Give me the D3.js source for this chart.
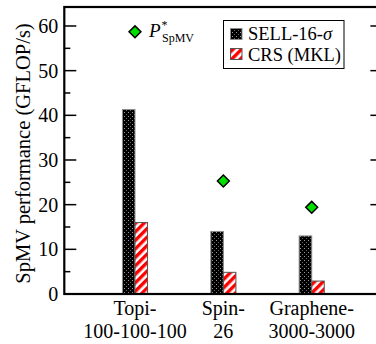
<!DOCTYPE html>
<html>
<head>
<meta charset="utf-8">
<script src="https://cdn.jsdelivr.net/npm/d3@7"></script>
<style>
  body { margin: 0; background: #fff; }
  svg { display: block; }
  text { font-family: "Liberation Serif", "Times New Roman", Times, serif; }
</style>
</head>
<body>
<div id="chart"></div>
<script>
const matrices = ["Topi-|100-100-100", "Spin-|26", "Graphene-|3000-3000"];
const sellValues = [41.3, 14.0, 13.0];
const crsValues = [16.0, 4.85, 2.9];
const pStarValues = [58.7, 25.3, 19.4];
const seriesNames = ["SELL-16-", "CRS (MKL)"];
const yTicks = [0, 10, 20, 30, 40, 50, 60];

const W = 376, H = 344;
const plotL = 64.3, plotR = 382.4, plotT = 7, plotB = 294;

const svg = d3.select("#chart").append("svg")
  .attr("width", W).attr("height", H);

const defs = svg.append("defs");

// stippled black fill for SELL bars
const dots = defs.append("pattern")
  .attr("id", "dots").attr("patternUnits", "userSpaceOnUse")
  .attr("width", 4).attr("height", 4);
dots.append("rect").attr("width", 4).attr("height", 4).attr("fill", "#000");
dots.append("rect").attr("x", 0).attr("y", 0).attr("width", 1).attr("height", 1).attr("fill", "#9a9a9a");
dots.append("rect").attr("x", 2).attr("y", 2).attr("width", 1).attr("height", 1).attr("fill", "#666");

// red/white diagonal stripes for CRS bars
const stripes = defs.append("pattern")
  .attr("id", "stripes").attr("patternUnits", "userSpaceOnUse")
  .attr("width", 6).attr("height", 6)
  .attr("patternTransform", "rotate(45)");
stripes.append("rect").attr("width", 6).attr("height", 6).attr("fill", "#fff");
stripes.append("rect").attr("width", 3.4).attr("height", 6).attr("fill", "#f00");

const x = d3.scaleLinear().domain([0.2, 3.8]).range([plotL, plotR]);
const y = d3.scaleLinear().domain([0, 64.25]).range([plotB, plotT]);
const bw = 0.142;

// bars
const groups = matrices.map((m, i) => i + 1);

svg.selectAll(".sell").data(sellValues).enter().append("rect")
  .attr("class", "sell")
  .attr("x", (d, i) => x(groups[i] - bw))
  .attr("width", x(bw) - x(0))
  .attr("y", d => y(d))
  .attr("height", d => y(0) - y(d))
  .attr("fill", "url(#dots)")
  .attr("stroke", "#8a8a8a").attr("stroke-width", 1);

svg.selectAll(".crs").data(crsValues).enter().append("rect")
  .attr("class", "crs")
  .attr("x", (d, i) => x(groups[i]))
  .attr("width", x(bw) - x(0))
  .attr("y", d => y(d))
  .attr("height", d => y(0) - y(d))
  .attr("fill", "url(#stripes)")
  .attr("stroke", "#555").attr("stroke-width", 1);

// frame
svg.append("rect")
  .attr("x", plotL).attr("y", plotT)
  .attr("width", plotR - plotL).attr("height", plotB - plotT)
  .attr("fill", "none").attr("stroke", "#000").attr("stroke-width", 2.2);

// ticks (inward, mirrored on the right)
const minor = d3.range(5, 65, 10);
const tickG = svg.append("g").attr("stroke", "#000").attr("stroke-width", 1.5);
yTicks.filter(t => t > 0).forEach(t => {
  tickG.append("line").attr("x1", plotL).attr("x2", plotL + 12).attr("y1", y(t)).attr("y2", y(t));
  tickG.append("line").attr("x1", plotR).attr("x2", plotR - 12).attr("y1", y(t)).attr("y2", y(t));
});
minor.forEach(t => {
  tickG.append("line").attr("x1", plotL).attr("x2", plotL + 6).attr("y1", y(t)).attr("y2", y(t));
  tickG.append("line").attr("x1", plotR).attr("x2", plotR - 6).attr("y1", y(t)).attr("y2", y(t));
});

svg.selectAll(".ytl").data(yTicks).enter().append("text")
  .attr("class", "ytl")
  .attr("x", plotL - 6).attr("y", d => y(d))
  .attr("dy", "0.35em")
  .attr("text-anchor", "end")
  .attr("font-size", 20)
  .text(d => d);

// x labels
matrices.forEach((m, i) => {
  const t = svg.append("text")
    .attr("text-anchor", "middle")
    .attr("font-size", 20);
  m.split("|").forEach((line, k) => {
    t.append("tspan").attr("x", x(groups[i])).attr("y", 315 + k * 23).text(line);
  });
});

// y title
svg.append("text")
  .attr("transform", `translate(30,${(plotT + plotB) / 2 + 3}) rotate(-90)`)
  .attr("text-anchor", "middle")
  .attr("font-size", 20.5)
  .text("SpMV performance (GFLOP/s)");

// P* diamonds
svg.selectAll(".pstar").data(pStarValues).enter().append("path")
  .attr("class", "pstar")
  .attr("d", d3.symbol(d3.symbolDiamond2, 90))
  .attr("transform", (d, i) => `translate(${x(groups[i])},${y(d)})`)
  .attr("fill", "#00e000").attr("stroke", "#000").attr("stroke-width", 1.5);

const pl = svg.append("text").attr("x", 149).attr("y", 37).attr("font-size", 19);
pl.append("tspan").attr("font-style", "italic").text("P");
pl.append("tspan").attr("font-size", 12).attr("dy", -8).attr("dx", 1).text("*");
pl.append("tspan").attr("font-size", 12).attr("x", 162).attr("y", 42).text("SpMV");

// legend
const lg = svg.append("g");
lg.append("rect").attr("x", 223.5).attr("y", 20.5).attr("width", 120.5).attr("height", 48)
  .attr("fill", "#fff").attr("stroke", "#000").attr("stroke-width", 1);
lg.append("rect").attr("x", 230.5).attr("y", 28.5).attr("width", 11.5).attr("height", 11)
  .attr("fill", "url(#dots)").attr("stroke", "#8a8a8a");
lg.append("rect").attr("x", 230.5).attr("y", 48.5).attr("width", 11.5).attr("height", 11)
  .attr("fill", "url(#stripes)").attr("stroke", "#555");
const l1 = lg.append("text").attr("x", 248).attr("y", 40).attr("font-size", 18.5).text(seriesNames[0]);
l1.append("tspan").attr("font-style", "italic").text("σ");
lg.append("text").attr("x", 248).attr("y", 60.5).attr("font-size", 18.5).text(seriesNames[1]);
</script>
</body>
</html>
